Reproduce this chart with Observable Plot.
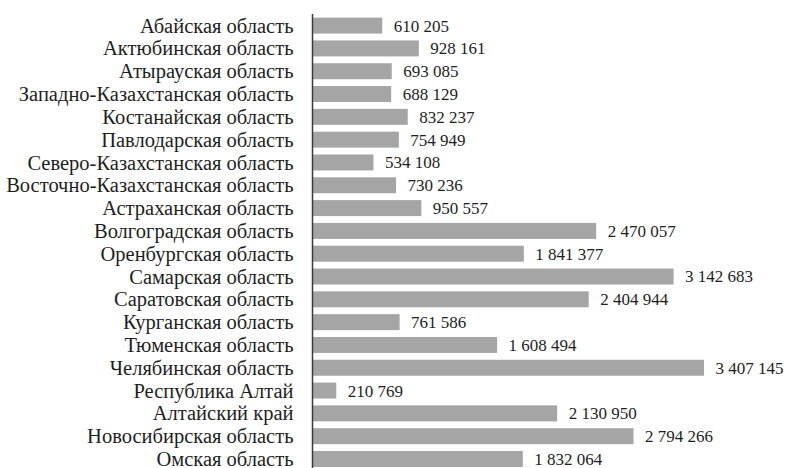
<!DOCTYPE html>
<html><head><meta charset="utf-8">
<script src="https://cdn.jsdelivr.net/npm/d3@7"></script>
<script src="https://cdn.jsdelivr.net/npm/@observablehq/plot@0.6"></script>
<style>body{margin:0;background:#fff;} svg{display:block;} #chart svg, #chart svg text{font-family:"Liberation Serif", serif !important;}</style>
</head><body><div id="chart"></div>
<script>
const regions = ["Абайская область","Актюбинская область","Атырауская область","Западно-Казахстанская область","Костанайская область","Павлодарская область","Северо-Казахстанская область","Восточно-Казахстанская область","Астраханская область","Волгоградская область","Оренбургская область","Самарская область","Саратовская область","Курганская область","Тюменская область","Челябинская область","Республика Алтай","Алтайский край","Новосибирская область","Омская область"];
const values = [610205,928161,693085,688129,832237,754949,534108,730236,950557,2470057,1841377,3142683,2404944,761586,1608494,3407145,210769,2130950,2794266,1832064];
const data = regions.map((r,i)=>({region:r, value:values[i]}));
const fmt = v => d3.format(",")(v).replace(/,/g," ");
const chart = Plot.plot({
  width: 785, height: 468,
  marginLeft: 312, marginRight: 81, marginTop: 14, marginBottom: 0,
  style: {background: "#fff"},
  x: {domain: [0, 3407145], range: [312, 704], axis: null},
  y: {domain: regions, range: [14.2, 470.4], paddingInner: 0.3, paddingOuter: 0.15, round: false, label: null},
  marks: [
    Plot.barX(data, {y: "region", x: "value", fill: "#a5a5a5"}),
    Plot.text(data, {y: "region", x: "value", text: d => fmt(d.value), dx: 11, textAnchor: "start", fontSize: 17, fill: "#1e1e1e"}),
    Plot.ruleX([0], {stroke: "#3a3a3a", strokeWidth: 1.5}),
    Plot.axisY({tickSize: 0, tickPadding: 19, fontSize: 20.5, fill: "#1e1e1e", label: null})
  ]
});
document.getElementById("chart").append(chart);
</script></body></html>
